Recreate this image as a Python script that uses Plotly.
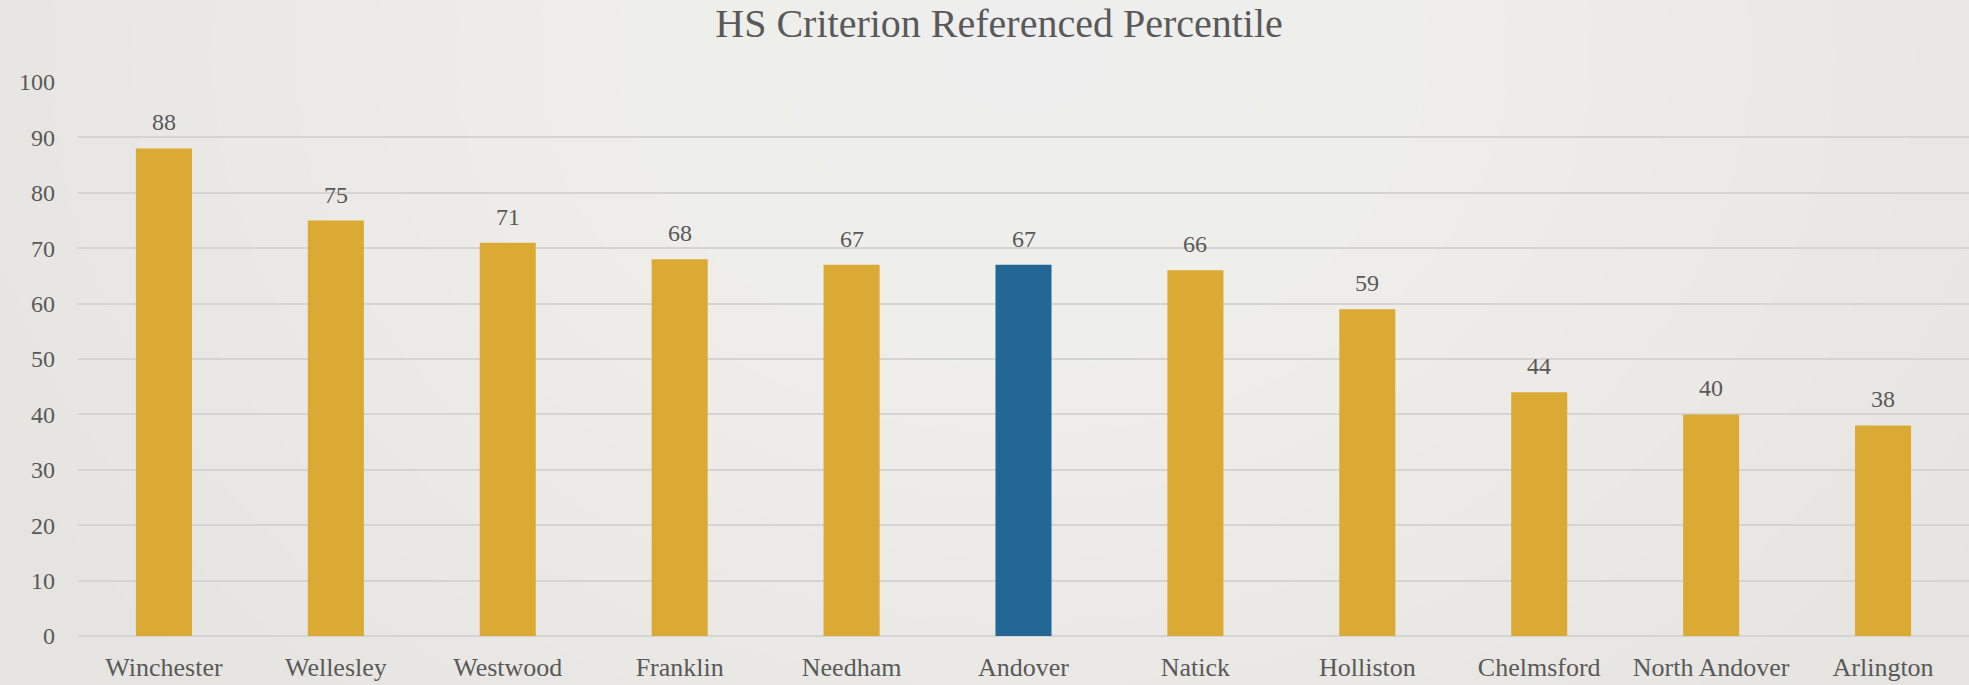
import plotly.graph_objects as go

categories = ["Winchester", "Wellesley", "Westwood", "Franklin", "Needham", "Andover",
              "Natick", "Holliston", "Chelmsford", "North Andover", "Arlington"]
values = [88, 75, 71, 68, 67, 67, 66, 59, 44, 40, 38]
highlight = "Andover"
y_ticks = [0, 10, 20, 30, 40, 50, 60, 70, 80, 90, 100]

GOLD = "#DBAA34"
BLUE = "#226795"
TEXT = "#595959"
FONT = "Liberation Serif"

colors = [BLUE if c == highlight else GOLD for c in categories]

fig = go.Figure()
fig.add_trace(go.Bar(x=categories, y=values, marker=dict(color=colors, line=dict(width=0)),
                     hoverinfo="x+y"))

for c, v in zip(categories, values):
    fig.add_annotation(x=c, y=v, text=str(v), showarrow=False, yshift=26,
                       font=dict(family=FONT, size=24, color=TEXT))

# soft radial background glow (stacked translucent ellipses)
n_glow = 14
for i in range(n_glow):
    f = 1 - i / n_glow
    fig.add_shape(type="circle", xref="paper", yref="paper",
                  x0=0.5 - 0.6 * f, x1=0.5 + 0.6 * f,
                  y0=1.05 - 1.6 * f, y1=1.05 + 1.6 * f,
                  fillcolor="rgba(255,255,255,0.055)", line=dict(width=0), layer="below")

fig.update_layout(
    width=1969, height=685,
    margin=dict(l=78, r=0, t=82, b=49),
    paper_bgcolor="#E5E4E0",
    plot_bgcolor="rgba(0,0,0,0)",
    bargap=0.674,
    showlegend=False,
    title=dict(text="HS Criterion Referenced Percentile", x=0.5074, xanchor="center",
               y=0.967, yanchor="middle", font=dict(family=FONT, size=40, color=TEXT)),
    xaxis=dict(showgrid=False, showline=False, tickfont=dict(family=FONT, size=26, color=TEXT),
               ticks="outside", ticklen=8, tickcolor="rgba(0,0,0,0)"),
    yaxis=dict(range=[0, 100], tickvals=y_ticks, showgrid=True, gridcolor="#D5D4D2", gridwidth=1.6,
               zeroline=True, zerolinecolor="#D5D4D2", zerolinewidth=1.6, showline=False,
               tickfont=dict(family=FONT, size=24, color=TEXT), ticklabelstandoff=22),
)

fig.write_html("out.html", config={"displayModeBar": False},
               post_script="document.body.style.margin='0';document.body.style.overflow='hidden';")
